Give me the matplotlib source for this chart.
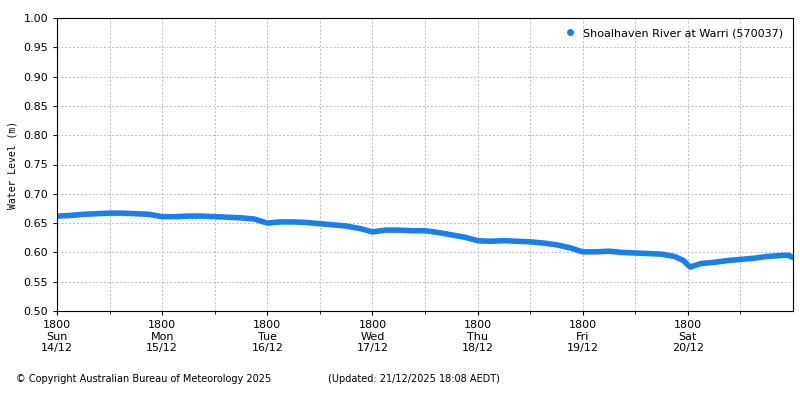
import matplotlib
matplotlib.use("Agg")
import matplotlib.pyplot as plt
import numpy as np

start = np.datetime64("2025-12-14T18:00")
levels = [0.662,0.663,0.665,0.666,0.667,0.667,0.666,0.665,
          0.661,0.661,0.662,0.662,0.661,0.660,0.659,0.657,
          0.650,0.652,0.652,0.651,0.649,0.647,0.645,0.641,
          0.635,0.638,0.638,0.637,0.637,0.634,0.630,0.626,
          0.620,0.619,0.620,0.619,0.618,0.616,0.613,0.608,
          0.601,0.601,0.602,0.600,0.599,0.598,0.597,0.593,
          0.586,0.575,0.581,0.583,0.586,0.588,0.590,0.593,0.594,0.595,0.595,0.591]
hours = [3*i for i in range(48)] + [143, 144.5, 147, 150, 153, 156, 159, 162, 165, 168, 165+6, 167.8+0.2]
hours[-2] = 165.5
hours[-1] = 168
hours = hours[:48] + [143, 144.5, 147, 150, 153, 156, 159, 162, 164, 166, 167, 168]
tick_days = ["Sun\n14/12","Mon\n15/12","Tue\n16/12","Wed\n17/12","Thu\n18/12","Fri\n19/12","Sat\n20/12"]

fig = plt.figure(figsize=(8,4), dpi=100)
ax = fig.add_axes([57/800, 1-311/400, 736/800, 293/400])
ax.plot(hours, levels, color="#1a7fe8", lw=4, solid_capstyle="round")
ax.plot([], [], "o", color="#1a7fe8", ms=4, label="Shoalhaven River at Warri (570037)")
ax.set_xlim(0, 168)
ax.set_ylim(0.5, 1.0)
ax.set_yticks(np.arange(0.5, 1.001, 0.05))
ax.set_yticklabels([f"{v:.2f}" for v in np.arange(0.5, 1.001, 0.05)], fontsize=8)
ax.set_xticks([24*i for i in range(7)])
ax.set_xticklabels([f"1800\n{d}" for d in tick_days], fontsize=8)
ax.set_xticks([24*i+12 for i in range(7)], minor=True)
ax.grid(True, which="both", color="#bbbbbb", ls=(0,(2,2)), lw=0.7)
ax.set_ylabel("Water Level (m)", fontsize=7, family="DejaVu Sans Mono")
ax.tick_params(length=3)
ax.legend(loc="upper right", fontsize=8, frameon=False, handletextpad=0.2, markerscale=1)
fig.text(0.02, 0.045, "© Copyright Australian Bureau of Meteorology 2025", fontsize=7)
fig.text(0.41, 0.045, "(Updated: 21/12/2025 18:08 AEDT)", fontsize=7)
fig.savefig("out.png", dpi=100)
